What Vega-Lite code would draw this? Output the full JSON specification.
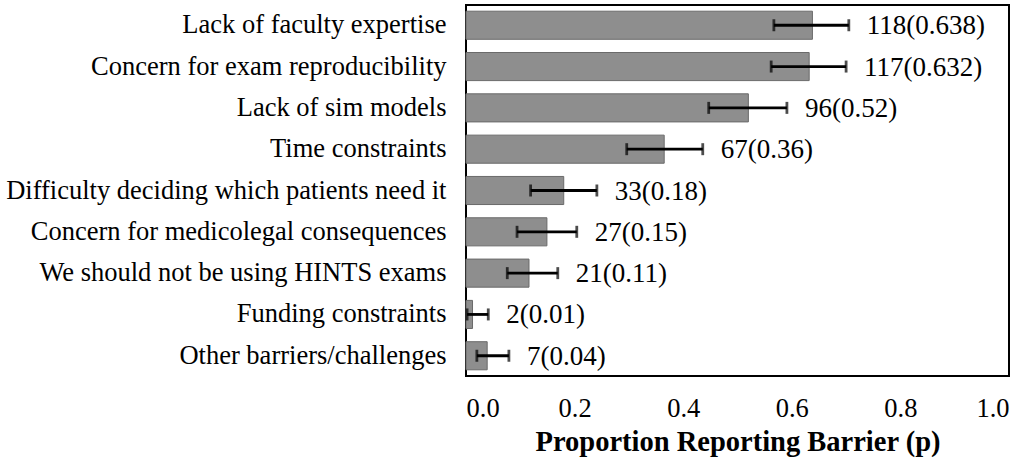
{
  "$schema": "https://vega.github.io/schema/vega-lite/v6.json",
  "width": 543,
  "height": 371,
  "padding": {"left": 5, "top": 5, "right": 5, "bottom": 5},
  "background": "white",
  "config": {
    "font": "Liberation Serif",
    "view": {"stroke": "black", "strokeWidth": 2},
    "axis": {"grid": false, "ticks": false, "domain": false, "labelColor": "black", "titleColor": "black", "labelFont": "Liberation Serif", "titleFont": "Liberation Serif"}
  },
  "data": {
    "values": [
      {"barrier": "Lack of faculty expertise", "p": 0.638, "lo": 0.567, "hi": 0.705, "label": "118(0.638)"},
      {"barrier": "Concern for exam reproducibility", "p": 0.632, "lo": 0.562, "hi": 0.700, "label": "117(0.632)"},
      {"barrier": "Lack of sim models", "p": 0.52, "lo": 0.447, "hi": 0.591, "label": "96(0.52)"},
      {"barrier": "Time constraints", "p": 0.365, "lo": 0.296, "hi": 0.436, "label": "67(0.36)"},
      {"barrier": "Difficulty deciding which patients need it", "p": 0.18, "lo": 0.119, "hi": 0.241, "label": "33(0.18)"},
      {"barrier": "Concern for medicolegal consequences", "p": 0.149, "lo": 0.094, "hi": 0.204, "label": "27(0.15)"},
      {"barrier": "We should not be using HINTS exams", "p": 0.116, "lo": 0.076, "hi": 0.169, "label": "21(0.11)"},
      {"barrier": "Funding constraints", "p": 0.012, "lo": 0.002, "hi": 0.041, "label": "2(0.01)"},
      {"barrier": "Other barriers/challenges", "p": 0.039, "lo": 0.020, "hi": 0.079, "label": "7(0.04)"}
    ]
  },
  "encoding": {
    "y": {
      "field": "barrier", "type": "nominal", "sort": null,
      "scale": {"paddingInner": 0.32, "paddingOuter": 0.15},
      "axis": {"title": null, "labelFontSize": 26.5, "labelPadding": 20, "labelLimit": 600}
    }
  },
  "layer": [
    {
      "mark": {"type": "bar", "color": "#8e8e8e", "stroke": "#6a6a6a", "strokeWidth": 1},
      "encoding": {
        "x": {
          "field": "p", "type": "quantitative",
          "scale": {"domain": [0, 1], "nice": false},
          "axis": {"values": [0, 0.2, 0.4, 0.6, 0.8, 1.0], "format": ".1f", "labelFontSize": 26.5, "labelPadding": 19, "title": "Proportion Reporting Barrier (p)", "titleFontSize": 28.5, "titleFontWeight": "bold", "titlePadding": 6}
        }
      }
    },
    {
      "mark": {"type": "rule", "color": "black", "strokeWidth": 2.8},
      "encoding": {"x": {"field": "lo", "type": "quantitative"}, "x2": {"field": "hi"}}
    },
    {
      "mark": {"type": "tick", "color": "black", "thickness": 2.8, "size": 12},
      "encoding": {"x": {"field": "lo", "type": "quantitative"}}
    },
    {
      "mark": {"type": "tick", "color": "black", "thickness": 2.8, "size": 12},
      "encoding": {"x": {"field": "hi", "type": "quantitative"}}
    },
    {
      "mark": {"type": "text", "align": "left", "baseline": "middle", "dx": 18, "dy": 1, "fontSize": 27, "color": "black", "font": "Liberation Serif"},
      "encoding": {"x": {"field": "hi", "type": "quantitative"}, "text": {"field": "label"}}
    }
  ]
}
